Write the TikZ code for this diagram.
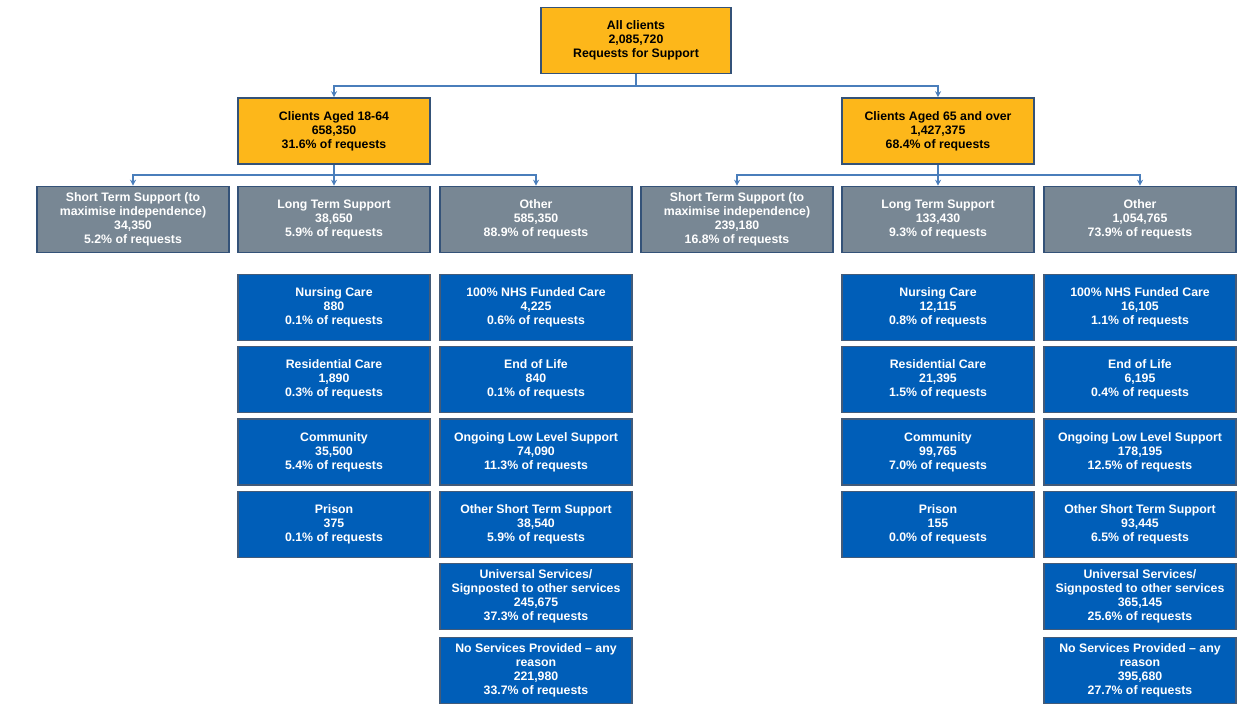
\documentclass[tikz,border=0pt]{standalone}
\usepackage{fontspec}
\setmainfont{Liberation Sans}
\usetikzlibrary{arrows.meta}
\definecolor{orangeF}{RGB}{253,183,26}
\definecolor{grayF}{RGB}{120,135,148}
\definecolor{blueF}{RGB}{0,94,184}
\definecolor{edgeC}{RGB}{52,82,120}
\definecolor{connC}{RGB}{74,126,187}
\tikzset{
  base/.style={draw=edgeC, line width=1.6pt, minimum width=192pt, minimum height=66pt, inner sep=1pt, align=center, font=\fontsize{12.3}{14}\selectfont\bfseries},
  topbox/.style={base, fill=orangeF, text=black},
  midbox/.style={base, fill=grayF, text=white},
  leafbox/.style={base, fill=blueF, text=white, draw=edgeC!80!gray},
  conn/.style={draw=connC, line width=1.6pt},
  arr/.style={conn, -{Stealth[length=6pt,width=6pt]}}
}
\begin{document}
\begin{tikzpicture}[x=1pt,y=-1pt]
\useasboundingbox (0,0) rectangle (1242,705);
% top
\node[topbox, minimum width=190pt] (all) at (636,40.5) {All clients\\2,085,720\\Requests for Support};
\node[topbox] (a) at (334,131) {Clients Aged 18-64\\658,350\\31.6\% of requests};
\node[topbox] (b) at (938,131) {Clients Aged 65 and over\\1,427,375\\68.4\% of requests};
\coordinate (j0) at (636,86);
\draw[conn] (all.south) -- (j0);
\draw[arr] (j0) -| (a.north);
\draw[arr] (j0) -| (b.north);
% level 3 left
\node[midbox] (a1) at (133,219.5) {Short Term Support (to\\maximise independence)\\34,350\\5.2\% of requests};
\node[midbox] (a2) at (334,219.5) {Long Term Support\\38,650\\5.9\% of requests};
\node[midbox] (a3) at (536,219.5) {Other\\585,350\\88.9\% of requests};
\coordinate (ja) at (334,175);
\draw[conn] (a.south) -- (ja);
\draw[arr] (ja) -| (a1.north);
\draw[arr] (ja) -- (a2.north);
\draw[arr] (ja) -| (a3.north);
% level 3 right
\node[midbox] (b1) at (737,219.5) {Short Term Support (to\\maximise independence)\\239,180\\16.8\% of requests};
\node[midbox] (b2) at (938,219.5) {Long Term Support\\133,430\\9.3\% of requests};
\node[midbox] (b3) at (1140,219.5) {Other\\1,054,765\\73.9\% of requests};
\coordinate (jb) at (938,175);
\draw[conn] (b.south) -- (jb);
\draw[arr] (jb) -| (b1.north);
\draw[arr] (jb) -- (b2.north);
\draw[arr] (jb) -| (b3.north);
% leaves 18-64 long term
\node[leafbox] (l1) at (334,307.5) {Nursing Care\\880\\0.1\% of requests};
\node[leafbox] (l2) at (334,379.5) {Residential Care\\1,890\\0.3\% of requests};
\node[leafbox] (l3) at (334,452) {Community\\35,500\\5.4\% of requests};
\node[leafbox] (l4) at (334,524.5) {Prison\\375\\0.1\% of requests};
% leaves 18-64 other
\node[leafbox] (o1) at (536,307.5) {100\% NHS Funded Care\\4,225\\0.6\% of requests};
\node[leafbox] (o2) at (536,379.5) {End of Life\\840\\0.1\% of requests};
\node[leafbox] (o3) at (536,452) {Ongoing Low Level Support\\74,090\\11.3\% of requests};
\node[leafbox] (o4) at (536,524.5) {Other Short Term Support\\38,540\\5.9\% of requests};
\node[leafbox] (o5) at (536,596.5) {Universal Services/\\Signposted to other services\\245,675\\37.3\% of requests};
\node[leafbox] (o6) at (536,670.5) {No Services Provided -- any\\reason\\221,980\\33.7\% of requests};
% leaves 65+ long term
\node[leafbox] (m1) at (938,307.5) {Nursing Care\\12,115\\0.8\% of requests};
\node[leafbox] (m2) at (938,379.5) {Residential Care\\21,395\\1.5\% of requests};
\node[leafbox] (m3) at (938,452) {Community\\99,765\\7.0\% of requests};
\node[leafbox] (m4) at (938,524.5) {Prison\\155\\0.0\% of requests};
% leaves 65+ other
\node[leafbox] (p1) at (1140,307.5) {100\% NHS Funded Care\\16,105\\1.1\% of requests};
\node[leafbox] (p2) at (1140,379.5) {End of Life\\6,195\\0.4\% of requests};
\node[leafbox] (p3) at (1140,452) {Ongoing Low Level Support\\178,195\\12.5\% of requests};
\node[leafbox] (p4) at (1140,524.5) {Other Short Term Support\\93,445\\6.5\% of requests};
\node[leafbox] (p5) at (1140,596.5) {Universal Services/\\Signposted to other services\\365,145\\25.6\% of requests};
\node[leafbox] (p6) at (1140,670.5) {No Services Provided -- any\\reason\\395,680\\27.7\% of requests};
\end{tikzpicture}
\end{document}
